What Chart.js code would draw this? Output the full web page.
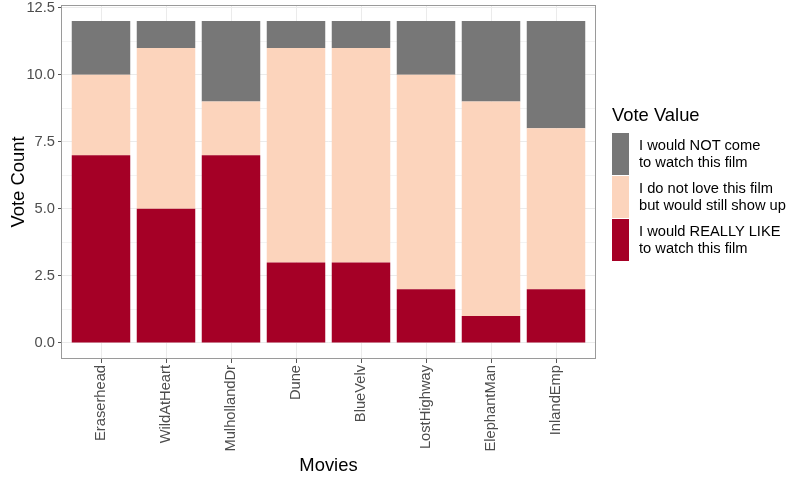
<!DOCTYPE html>
<html>
<head>
<meta charset="utf-8">
<script src="https://cdn.jsdelivr.net/npm/chart.js@4"></script>
<style>
  html, body { margin: 0; padding: 0; background: #ffffff; }
  #wrap { position: relative; width: 800px; height: 480px; font-family: "Liberation Sans", Arial, sans-serif; }
  #c { position: absolute; left: 0; top: 0; }
  #legend { position: absolute; left: 612px; top: 103px; color: #000; }
  #legend .title { font-size: 18.4px; line-height: 24px; margin-bottom: 5px; }
  #legend .item { display: flex; align-items: center; height: 43px; }
  #legend .key { width: 17px; height: 42px; margin-right: 10px; flex: none; }
  #legend .lab { font-size: 14.7px; line-height: 17px; }
</style>
</head>
<body>
<div id="wrap">
  <canvas id="c" width="800" height="480"></canvas>
  <div id="legend"></div>
</div>
<script>
const categories = ["Eraserhead", "WildAtHeart", "MulhollandDr", "Dune", "BlueVelv", "LostHighway", "ElephantMan", "InlandEmp"];
const reallyLike = [7, 5, 7, 3, 3, 2, 1, 2];
const stillShowUp = [3, 6, 2, 8, 8, 8, 8, 6];
const wouldNotCome = [2, 1, 3, 1, 1, 2, 3, 4];
const yTickValues = [0, 2.5, 5, 7.5, 10, 12.5];
const yTickLabels = ["0.0", "2.5", "5.0", "7.5", "10.0", "12.5"];
const seriesNames = [
  ["I would NOT come", "to watch this film"],
  ["I do not love this film", "but would still show up"],
  ["I would REALLY LIKE", "to watch this film"]
];
const seriesColors = ["#777777", "#FCD4BC", "#A50026"];

const toPoints = arr => arr.map((v, i) => ({ x: i + 1, y: v }));

const minorTicks = [];
for (let i = 0; i < yTickValues.length - 1; i++) minorTicks.push((yTickValues[i] + yTickValues[i + 1]) / 2);
const allYTicks = yTickValues.concat(minorTicks).sort((a, b) => a - b);

const borderPlugin = {
  id: 'panelBorder',
  afterDatasetsDraw(chart) {
    const a = chart.chartArea;
    const ctx = chart.ctx;
    ctx.save();
    ctx.strokeStyle = '#9a9a9a';
    ctx.lineWidth = 1;
    ctx.strokeRect(Math.round(a.left) - 0.5, Math.round(a.top) + 0.5, Math.round(a.right - a.left) + 1, Math.round(a.bottom - a.top) - 1);
    ctx.restore();
  }
};

const font = "'Liberation Sans', Arial, sans-serif";

new Chart(document.getElementById('c'), {
  type: 'bar',
  data: {
    datasets: [
      { label: seriesNames[2].join(' '), data: toPoints(reallyLike), backgroundColor: seriesColors[2], borderWidth: 0 },
      { label: seriesNames[1].join(' '), data: toPoints(stillShowUp), backgroundColor: seriesColors[1], borderWidth: 0 },
      { label: seriesNames[0].join(' '), data: toPoints(wouldNotCome), backgroundColor: seriesColors[0], borderWidth: 0 }
    ]
  },
  options: {
    responsive: false,
    animation: false,
    devicePixelRatio: 1,
    layout: { padding: { left: 0, top: 5, right: 205, bottom: 0 } },
    datasets: { bar: { barPercentage: 0.9, categoryPercentage: 1.0, borderWidth: 0 } },
    plugins: { legend: { display: false }, tooltip: { enabled: false } },
    scales: {
      x: {
        type: 'linear',
        stacked: true,
        offset: false,
        min: 0.4,
        max: 8.6,
        afterBuildTicks: s => { s.ticks = categories.map((c, i) => ({ value: i + 1 })); },
        afterFit: s => { s.height = 121; s.paddingLeft = 0; s.paddingRight = 0; },
        grid: { offset: false, color: '#ebebeb', lineWidth: 1, tickLength: 4, tickColor: '#555555', drawTicks: true },
        border: { display: false },
        ticks: {
          autoSkip: false,
          minRotation: 90,
          maxRotation: 90,
          padding: 2,
          color: '#4d4d4d',
          font: { family: font, size: 14.7 },
          callback: v => categories[v - 1]
        },
        title: { display: true, text: 'Movies', color: '#000', font: { family: font, size: 18.4 }, padding: { top: 0, bottom: 3 } }
      },
      y: {
        type: 'linear',
        stacked: true,
        min: -0.6,
        max: 12.6,
        afterBuildTicks: s => { s.ticks = allYTicks.map(v => ({ value: v })); },
        afterFit: s => { s.width = 62; s.paddingTop = 0; s.paddingBottom = 0; },
        grid: {
          color: '#ebebeb',
          lineWidth: ctx => (yTickValues.includes(ctx.tick.value) ? 1 : 0.6),
          tickLength: 4,
          tickColor: ctx => (yTickValues.includes(ctx.tick.value) ? '#555555' : 'rgba(0,0,0,0)')
        },
        border: { display: false },
        ticks: {
          padding: 3,
          color: '#4d4d4d',
          font: { family: font, size: 14.7 },
          callback: v => { const k = yTickValues.indexOf(v); return k >= 0 ? yTickLabels[k] : ''; }
        },
        title: { display: true, text: 'Vote Count', color: '#000', font: { family: font, size: 18.4 }, padding: { top: 8, bottom: 0 } }
      }
    }
  },
  plugins: [borderPlugin]
});

const leg = document.getElementById('legend');
const t = document.createElement('div');
t.className = 'title';
t.textContent = 'Vote Value';
leg.appendChild(t);
seriesNames.forEach((lines, i) => {
  const item = document.createElement('div');
  item.className = 'item';
  const key = document.createElement('div');
  key.className = 'key';
  key.style.background = seriesColors[i];
  const lab = document.createElement('div');
  lab.className = 'lab';
  lab.innerHTML = lines.map(l => l.replace(/&/g, '&amp;')).join('<br>');
  item.appendChild(key);
  item.appendChild(lab);
  leg.appendChild(item);
});
</script>
</body>
</html>
